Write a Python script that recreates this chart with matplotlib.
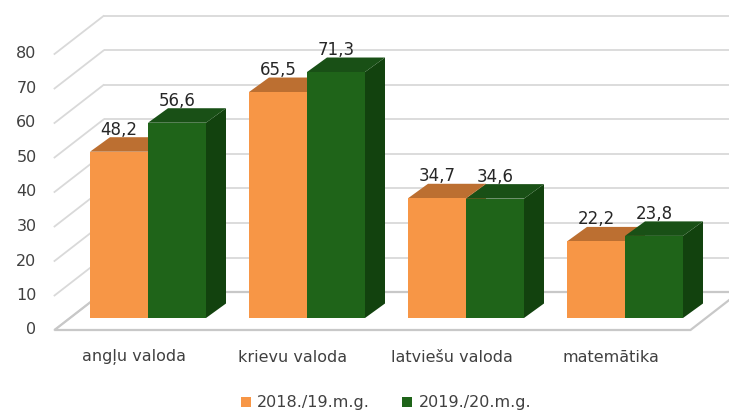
import matplotlib
matplotlib.use("Agg")
import matplotlib.pyplot as plt
from matplotlib.patches import Polygon, Patch

categories = ["angļu valoda", "krievu valoda", "latviešu valoda", "matemātika"]
series_names = ["2018./19.m.g.", "2019./20.m.g."]
values_2018 = [48.2, 65.5, 34.7, 22.2]
values_2019 = [56.6, 71.3, 34.6, 23.8]
y_ticks = [0, 10, 20, 30, 40, 50, 60, 70, 80]

W, H = 729, 412
PX_X = 159.0   # pixels per category unit
PX_Y = 3.45    # pixels per value unit
X0_PX = 134.0  # pixel x of first category centre (front floor)
Y0_PX = 330.0  # pixel y of value 0 (front floor)

front_cols = ["#F79646", "#1F6419"]
top_cols = ["#BC6F31", "#195016"]
side_cols = ["#B86A2C", "#12420E"]

fig = plt.figure(figsize=(W / 100, H / 100), dpi=100)
ax = fig.add_axes([0, 0, 1, 1])
ax.set_xlim(-X0_PX / PX_X, (W - X0_PX) / PX_X)
ax.set_ylim((Y0_PX - H) / PX_Y, Y0_PX / PX_Y)
ax.axis("off")

# depth offsets in data units
wall_dx, wall_dy = 49 / PX_X, 38 / PX_Y
bar_off_dx, bar_off_dy = 14 / PX_X, 12 / PX_Y
bar_dx, bar_dy = 20 / PX_X, 14.5 / PX_Y
bw = 58 / PX_X
x_left, x_right = -0.5, len(categories) - 0.5

grid_c = "#D9D9D9"
floor_c = "#C8C8C8"
txt_c = "#404040"

# back wall gridlines and left-side diagonals
for v in y_ticks:
    ax.plot([x_left + wall_dx, x_right + wall_dx + 1], [v + wall_dy, v + wall_dy],
            color=grid_c, lw=1.3, zorder=1, solid_capstyle="butt")
    ax.plot([x_left, x_left + wall_dx], [v, v + wall_dy], color=grid_c, lw=1.3, zorder=1)
    ax.text(x_left - 18 / PX_X, v, str(v), ha="right", va="center",
            fontsize=11.5, color=txt_c, family="DejaVu Sans")

# floor outline
floor = Polygon([(x_left, 0), (x_right, 0), (x_right + wall_dx, wall_dy), (x_left + wall_dx, wall_dy)],
                closed=True, facecolor="none", edgecolor=floor_c, lw=1.6, zorder=1.5)
ax.add_patch(floor)


def draw_bar(xl, v, k):
    y0 = bar_off_dy
    xr = xl + bw
    front = Polygon([(xl, y0), (xr, y0), (xr, y0 + v), (xl, y0 + v)], closed=True,
                    facecolor=front_cols[k], edgecolor="none", zorder=3)
    top = Polygon([(xl, y0 + v), (xr, y0 + v), (xr + bar_dx, y0 + v + bar_dy), (xl + bar_dx, y0 + v + bar_dy)],
                  closed=True, facecolor=top_cols[k], edgecolor="none", zorder=3)
    side = Polygon([(xr, y0), (xr + bar_dx, y0 + bar_dy), (xr + bar_dx, y0 + v + bar_dy), (xr, y0 + v)],
                   closed=True, facecolor=side_cols[k], edgecolor="none", zorder=3)
    for p in (side, top, front):
        ax.add_patch(p)
    ax.text(xl + bw / 2, y0 + v + 22 / PX_Y, f"{v:.1f}".replace(".", ","),
            ha="center", va="center", fontsize=12, color="#262626", family="DejaVu Sans", zorder=5)


for i, cat in enumerate(categories):
    cx = i + bar_off_dx
    draw_bar(cx - bw, values_2018[i], 0)
    draw_bar(cx, values_2019[i], 1)
    ax.text(i, (Y0_PX - 357) / PX_Y, cat, ha="center", va="center",
            fontsize=11.5, color=txt_c, family="DejaVu Sans")

handles = [Patch(facecolor=front_cols[0], edgecolor="none"),
           Patch(facecolor=front_cols[1], edgecolor="none")]
fig.legend(handles, series_names, loc="center", bbox_to_anchor=(386 / W, 1 - 403 / H),
           ncol=2, frameon=False, handlelength=0.65, handleheight=0.65, handletextpad=0.4,
           columnspacing=2.0, prop={"family": "DejaVu Sans", "size": 11.5}, labelcolor=txt_c)

fig.savefig("out.png", dpi=100)
